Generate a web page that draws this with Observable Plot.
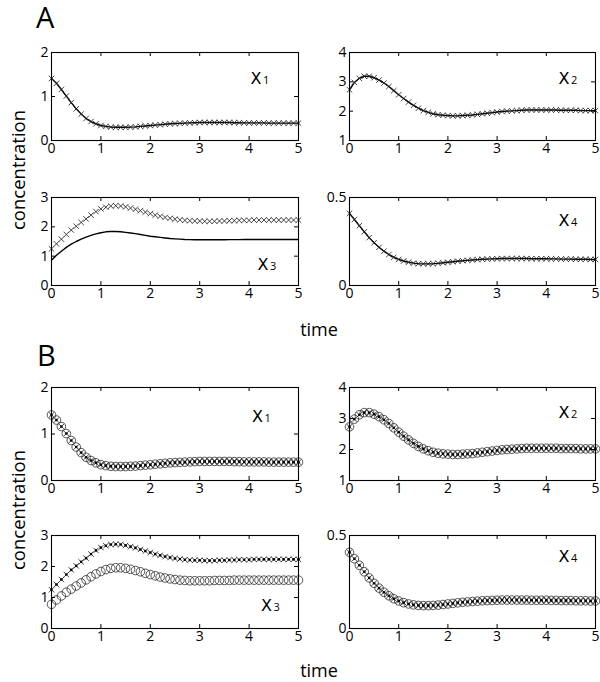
<!DOCTYPE html>
<html>
<head>
<meta charset="utf-8">
<script src="https://cdn.jsdelivr.net/npm/d3@7"></script>
<script src="https://cdn.jsdelivr.net/npm/@observablehq/plot@0.6"></script>
<style>
  body { margin: 0; background: #fff; font-family: "Open Sans", sans-serif; }
  #root { position: relative; width: 600px; height: 682px; overflow: hidden; background: #fff; }
  #root svg { position: absolute; }
</style>
</head>
<body>
<div id="root"></div>
<script>
// ---- data ----
const time = [0,0.1,0.2,0.3,0.4,0.5,0.6,0.7,0.8,0.9,1,1.1,1.2,1.3,1.4,1.5,1.6,1.7,1.8,1.9,2,2.1,2.2,2.3,2.4,2.5,2.6,2.7,2.8,2.9,3,3.1,3.2,3.3,3.4,3.5,3.6,3.7,3.8,3.9,4,4.1,4.2,4.3,4.4,4.5,4.6,4.7,4.8,4.9,5];

const x1Series = [1.41,1.30,1.16,1.01,0.86,0.72,0.60,0.50,0.43,0.38,0.34,
  0.32,0.305,0.30,0.30,0.30,0.305,0.31,0.32,0.33,0.34,
  0.35,0.36,0.37,0.38,0.385,0.39,0.395,0.40,0.405,0.41,
  0.41,0.41,0.41,0.41,0.41,0.41,0.405,0.405,0.40,0.40,
  0.40,0.40,0.40,0.395,0.395,0.395,0.395,0.395,0.395,0.395];

const x2Series = [2.73,2.98,3.12,3.19,3.19,3.14,3.06,2.96,2.84,2.70,2.56,
  2.43,2.31,2.20,2.10,2.02,1.96,1.91,1.88,1.86,1.85,
  1.84,1.84,1.85,1.86,1.87,1.89,1.91,1.93,1.95,1.97,
  1.99,2.00,2.01,2.02,2.03,2.04,2.04,2.04,2.04,2.04,
  2.04,2.04,2.03,2.03,2.03,2.03,2.02,2.02,2.02,2.02];

const x3Observed = [1.25,1.42,1.58,1.74,1.89,2.02,2.15,2.27,2.40,2.52,2.61,
  2.67,2.71,2.72,2.71,2.68,2.64,2.60,2.55,2.50,2.45,
  2.40,2.36,2.32,2.29,2.26,2.24,2.22,2.21,2.20,2.20,
  2.19,2.19,2.19,2.20,2.20,2.21,2.21,2.22,2.22,2.22,
  2.23,2.23,2.23,2.23,2.23,2.23,2.23,2.23,2.23,2.23];

const x3ModelA = [0.86,1.03,1.17,1.30,1.41,1.50,1.58,1.65,1.71,1.76,1.80,
  1.83,1.84,1.84,1.83,1.81,1.79,1.77,1.74,1.71,1.68,
  1.66,1.64,1.62,1.60,1.59,1.58,1.57,1.565,1.56,1.56,
  1.56,1.56,1.56,1.56,1.56,1.565,1.565,1.565,1.57,1.57,
  1.57,1.57,1.57,1.57,1.57,1.57,1.57,1.57,1.57,1.57];

const x3ModelB = [0.78,0.92,1.05,1.17,1.27,1.37,1.47,1.57,1.67,1.76,1.84,
  1.90,1.94,1.96,1.96,1.94,1.91,1.87,1.83,1.78,1.74,
  1.70,1.66,1.63,1.60,1.58,1.56,1.55,1.54,1.54,1.54,
  1.54,1.54,1.55,1.55,1.55,1.55,1.56,1.56,1.56,1.56,
  1.56,1.56,1.56,1.56,1.56,1.56,1.56,1.56,1.56,1.56];

const x4Series = [0.41,0.375,0.34,0.305,0.272,0.243,0.217,0.195,0.176,0.160,0.148,
  0.139,0.132,0.127,0.124,0.123,0.123,0.124,0.126,0.129,0.132,
  0.135,0.138,0.141,0.143,0.145,0.147,0.149,0.150,0.151,0.152,
  0.153,0.153,0.153,0.153,0.153,0.153,0.152,0.152,0.152,0.152,
  0.151,0.151,0.150,0.150,0.150,0.149,0.149,0.149,0.148,0.148];

const xTicks = [0,1,2,3,4,5];
const yTicks1 = [0,1,2];
const yTicks2 = [1,2,3,4];
const yTicks3 = [0,1,2,3];
const yTicks4 = [0,0.5];
const panelLabels = ["1","2","3","4"];

// ---- helpers ----
const rows = arr => time.map((t, i) => ({t, v: arr[i]}));
const FONT = "Open Sans";
const root = document.getElementById("root");

const lineMark = arr => Plot.line(rows(arr), {x: "t", y: "v", stroke: "black", strokeWidth: 1.4});
const crossMark = arr => Plot.dot(rows(arr), {x: "t", y: "v", symbol: "times", r: 2.6, stroke: "#222", strokeWidth: 0.85});
const circleMark = arr => Plot.dot(rows(arr), {x: "t", y: "v", symbol: "circle", r: 4.3, stroke: "#111", strokeWidth: 0.7, fill: "none"});
const pointMark = arr => Plot.dot(rows(arr), {x: "t", y: "v", symbol: "circle", r: 1.3, fill: "black", stroke: "none"});

function panel(o) {
  const mL = 44, mR = 8, mT = 9, mB = 24;
  const svg = Plot.plot({
    width: o.w + mL + mR,
    height: o.h + mT + mB,
    marginLeft: mL, marginRight: mR, marginTop: mT, marginBottom: mB,
    x: {domain: [0, 5]},
    y: {domain: o.yDomain},
    style: {fontFamily: FONT, fontSize: "14px", color: "black", background: "transparent", overflow: "visible"},
    marks: [
      ...o.marks,
      Plot.tickX(xTicks, {x: d => d, insetTop: o.h - 4, stroke: "black", strokeWidth: 1}),
      Plot.tickX(xTicks, {x: d => d, insetBottom: o.h - 4, stroke: "black", strokeWidth: 1}),
      Plot.tickY(o.yTicks, {y: d => d, insetRight: o.w - 4, stroke: "black", strokeWidth: 1}),
      Plot.tickY(o.yTicks, {y: d => d, insetLeft: o.w - 4, stroke: "black", strokeWidth: 1}),
      Plot.axisX(xTicks, {tickSize: 0, tickPadding: 3, label: null, fontSize: 14}),
      Plot.axisY(o.yTicks, {tickSize: 0, tickPadding: 3, label: null, fontSize: 14, tickFormat: d => String(d)}),
      Plot.frame({stroke: "black", strokeWidth: 1.1}),
      Plot.text([o.lab], {x: o.lx, y: o.ly, text: () => "X", textAnchor: "start", lineAnchor: "bottom", fontSize: 16, fontFamily: "DejaVu Sans", fontWeight: "normal", fill: "black"}),
      Plot.text([o.lab], {x: o.lx, y: o.ly, text: d => d, textAnchor: "start", lineAnchor: "bottom", fontSize: 11, dx: 12.5, fill: "black"})
    ]
  });
  svg.style.left = (o.left - mL) + "px";
  svg.style.top = (o.top - mT) + "px";
  root.appendChild(svg);
}

const LX = 51, RX = 349, LW = 247, RW = 246;

// Section A
panel({left: LX, top: 52, w: LW, h: 88, yDomain: [0, 2], yTicks: yTicks1, lab: panelLabels[0], lx: 4.03, ly: 1.29,
  marks: [lineMark(x1Series), crossMark(x1Series)]});
panel({left: RX, top: 52, w: RW, h: 88, yDomain: [1, 4], yTicks: yTicks2, lab: panelLabels[1], lx: 4.25, ly: 2.94,
  marks: [lineMark(x2Series), crossMark(x2Series)]});
panel({left: LX, top: 197, w: LW, h: 88, yDomain: [0, 3], yTicks: yTicks3, lab: panelLabels[2], lx: 4.17, ly: 0.52,
  marks: [lineMark(x3ModelA), crossMark(x3Observed)]});
panel({left: RX, top: 197, w: RW, h: 88, yDomain: [0, 0.5], yTicks: yTicks4, lab: panelLabels[3], lx: 4.25, ly: 0.34,
  marks: [lineMark(x4Series), crossMark(x4Series)]});

// Section B
panel({left: LX, top: 387, w: LW, h: 93, yDomain: [0, 2], yTicks: yTicks1, lab: panelLabels[0], lx: 4.06, ly: 1.25,
  marks: [circleMark(x1Series), crossMark(x1Series), pointMark(x1Series)]});
panel({left: RX, top: 387, w: RW, h: 93, yDomain: [1, 4], yTicks: yTicks2, lab: panelLabels[1], lx: 4.25, ly: 3.01,
  marks: [circleMark(x2Series), crossMark(x2Series), pointMark(x2Series)]});
panel({left: LX, top: 535, w: LW, h: 93, yDomain: [0, 3], yTicks: yTicks3, lab: panelLabels[2], lx: 4.24, ly: 0.55,
  marks: [circleMark(x3ModelB), crossMark(x3Observed), pointMark(x3Observed)]});
panel({left: RX, top: 535, w: RW, h: 93, yDomain: [0, 0.5], yTicks: yTicks4, lab: panelLabels[3], lx: 4.25, ly: 0.357,
  marks: [circleMark(x4Series), crossMark(x4Series), pointMark(x4Series)]});

// Figure-level text
const ns = "http://www.w3.org/2000/svg";
const overlay = document.createElementNS(ns, "svg");
overlay.setAttribute("width", 600);
overlay.setAttribute("height", 682);
overlay.style.left = "0px"; overlay.style.top = "0px";
function addText(txt, x, y, size, opts = {}) {
  const t = document.createElementNS(ns, "text");
  t.setAttribute("x", x); t.setAttribute("y", y);
  t.setAttribute("font-family", FONT);
  t.setAttribute("font-size", size);
  t.setAttribute("fill", "black");
  if (opts.anchor) t.setAttribute("text-anchor", opts.anchor);
  if (opts.rotate) t.setAttribute("transform", `rotate(${opts.rotate} ${x} ${y})`);
  t.textContent = txt;
  overlay.appendChild(t);
}
addText("A", 36, 28, 29);
addText("B", 37, 366, 29);
addText("concentration", 25, 170, 18.5, {anchor: "middle", rotate: -90});
addText("concentration", 25, 510, 18.5, {anchor: "middle", rotate: -90});
addText("time", 319, 336, 18, {anchor: "middle"});
addText("time", 319, 677, 18, {anchor: "middle"});
root.insertBefore(overlay, root.firstChild);
</script>
</body>
</html>
